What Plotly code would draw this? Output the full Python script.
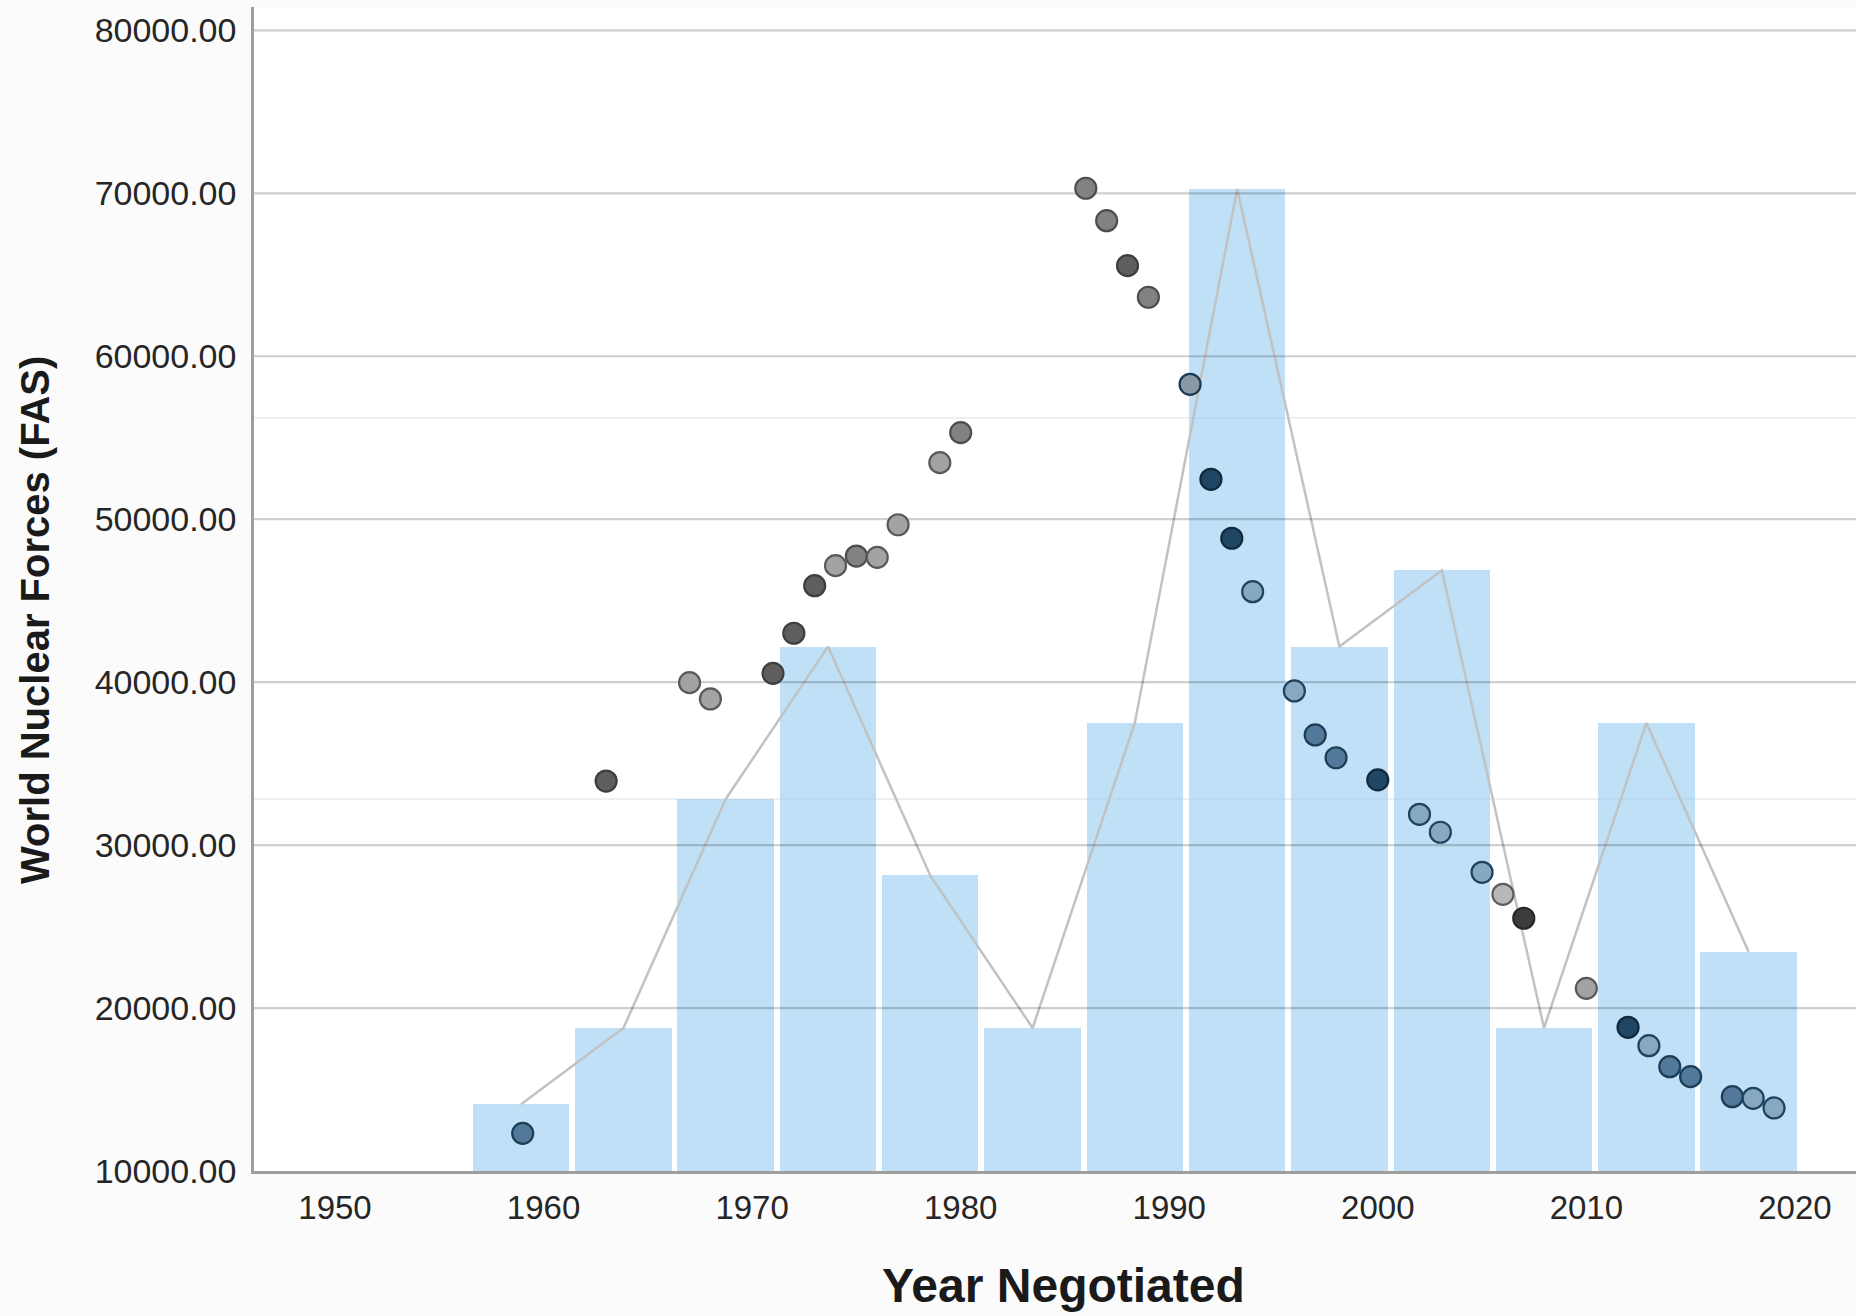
import plotly.graph_objects as go

# ---------------- data ----------------
years = [1959, 1963, 1967, 1968, 1971, 1972, 1973, 1974, 1975, 1976, 1977, 1979, 1980,
         1986, 1987, 1988, 1989, 1991, 1992, 1993, 1994, 1996, 1997, 1998, 2000, 2002,
         2003, 2005, 2006, 2007, 2010, 2012, 2013, 2014, 2015, 2017, 2018, 2019]
forces = [12310, 33930, 39970, 38970, 40540, 43000, 45920, 47150, 47740, 47660, 49660, 53470, 55310,
          70310, 68320, 65560, 63620, 58280, 52450, 48830, 45550, 39460, 36760, 35360, 34000, 31890,
          30790, 28330, 26980, 25510, 21210, 18820, 17690, 16400, 15790, 14560, 14460, 13870]
groups = ["blue", "darkgray", "lightgray", "lightgray", "darkgray", "darkgray", "darkgray", "lightgray",
          "gray", "lightgray", "lightgray", "lightgray", "gray", "gray", "gray", "darkgray", "gray",
          "mixed", "navy", "navy", "lightblue", "lightblue", "blue", "blue", "navy", "lightblue",
          "lightblue", "lightblue", "palegray", "black", "lightgray", "navy", "lightblue", "blue",
          "blue", "blue", "lightblue", "lightblue"]

bin_centers = [1958.92, 1963.83, 1968.73, 1973.64, 1978.54, 1983.45, 1988.35, 1993.26,
               1998.16, 2003.07, 2007.97, 2012.88, 2017.78]
bin_counts = [1, 2, 5, 7, 4, 2, 6, 13, 7, 8, 2, 6, 3]

y_ticks = [10000, 20000, 30000, 40000, 50000, 60000, 70000, 80000]
x_ticks = [1950, 1960, 1970, 1980, 1990, 2000, 2010, 2020]

# ---------------- styles ----------------
fill = {"navy": "#1f4764", "blue": "#52799a", "lightblue": "#86a8c0", "darkgray": "#5e5e5e",
        "gray": "#828282", "lightgray": "#a3a3a3", "palegray": "#b8b8b8", "black": "#3c3c3c",
        "mixed": "#8a99a6"}
edge = {"navy": "#10293c", "blue": "#1d3c55", "lightblue": "#1e4260", "darkgray": "#3e3e3e",
        "gray": "#4e4e4e", "lightgray": "#595959", "palegray": "#5e5e5e", "black": "#262626",
        "mixed": "#1c3a52"}

X_RANGE = [1946.116, 2022.93]
Y_RANGE = [10000, 81433]
CNT_MIN, CNT_MAX = 0.1256, 15.385
FONT = "Liberation Sans, Arial, sans-serif"
AXIS_COL = "rgba(0,0,0,0.37)"

fig = go.Figure()

# histogram bars (count axis)
fig.add_trace(go.Bar(
    x=bin_centers, y=[c - CNT_MIN for c in bin_counts], base=CNT_MIN,
    width=4.62, marker=dict(color="rgba(140,200,240,0.56)", line=dict(width=0)),
    yaxis="y", hoverinfo="skip", showlegend=False))

# frequency polygon
fig.add_trace(go.Scatter(
    x=bin_centers, y=bin_counts, mode="lines",
    line=dict(color="#c2c2c2", width=2.5), yaxis="y",
    hoverinfo="skip", showlegend=False))

# major gridlines drawn over the bars (translucent), under the points
gx, gy = [], []
for t in y_ticks[1:]:
    gx += [X_RANGE[0], X_RANGE[1], None]
    gy += [t, t, None]
fig.add_trace(go.Scatter(
    x=gx, y=gy, mode="lines", yaxis="y2",
    line=dict(color="rgba(0,0,0,0.19)", width=2.2),
    hoverinfo="skip", showlegend=False))

# data points
fig.add_trace(go.Scatter(
    x=years, y=forces, mode="markers", yaxis="y2",
    marker=dict(size=21, color=[fill[g] for g in groups],
                line=dict(color=[edge[g] for g in groups], width=2.2)),
    showlegend=False))

fig.update_layout(
    width=1856, height=1316,
    margin=dict(l=254, r=0, t=7, b=145),
    paper_bgcolor="#fbfbfb", plot_bgcolor="#ffffff",
    font=dict(family=FONT, color="#262626"),
    bargap=0,
    xaxis=dict(range=X_RANGE, tickvals=x_ticks, ticktext=[str(t) for t in x_ticks],
               showgrid=False, zeroline=False, showline=True, linecolor=AXIS_COL, linewidth=2.5,
               ticks="", tickfont=dict(size=33, color="#262626"), ticklabelstandoff=6),
    yaxis=dict(range=[CNT_MIN, CNT_MAX], tickvals=[5, 10], showticklabels=False,
               showgrid=True, gridcolor="#efefef", gridwidth=2, zeroline=False,
               showline=False, ticks=""),
    yaxis2=dict(range=Y_RANGE, overlaying="y", side="left", tickvals=y_ticks,
                tickformat=".2f", showgrid=False,
                zeroline=False, showline=True, linecolor=AXIS_COL, linewidth=2.5,
                ticks="", tickfont=dict(size=34, color="#262626"), ticklabelstandoff=8),
    annotations=[
        dict(text="<b>World Nuclear Forces (FAS)</b>", xref="paper", yref="paper",
             x=-0.1367, y=0.4734, xanchor="center", yanchor="middle", textangle=-90,
             showarrow=False, font=dict(size=40, color="#1a1a1a", family=FONT)),
        dict(text="<b>Year Negotiated</b>", xref="paper", yref="paper",
             x=0.5056, y=-0.0980, xanchor="center", yanchor="middle",
             showarrow=False, font=dict(size=48, color="#1a1a1a", family=FONT)),
    ],
)

fig.write_html("out.html", config={"displayModeBar": False},
               post_script="document.body.style.margin='0';")
